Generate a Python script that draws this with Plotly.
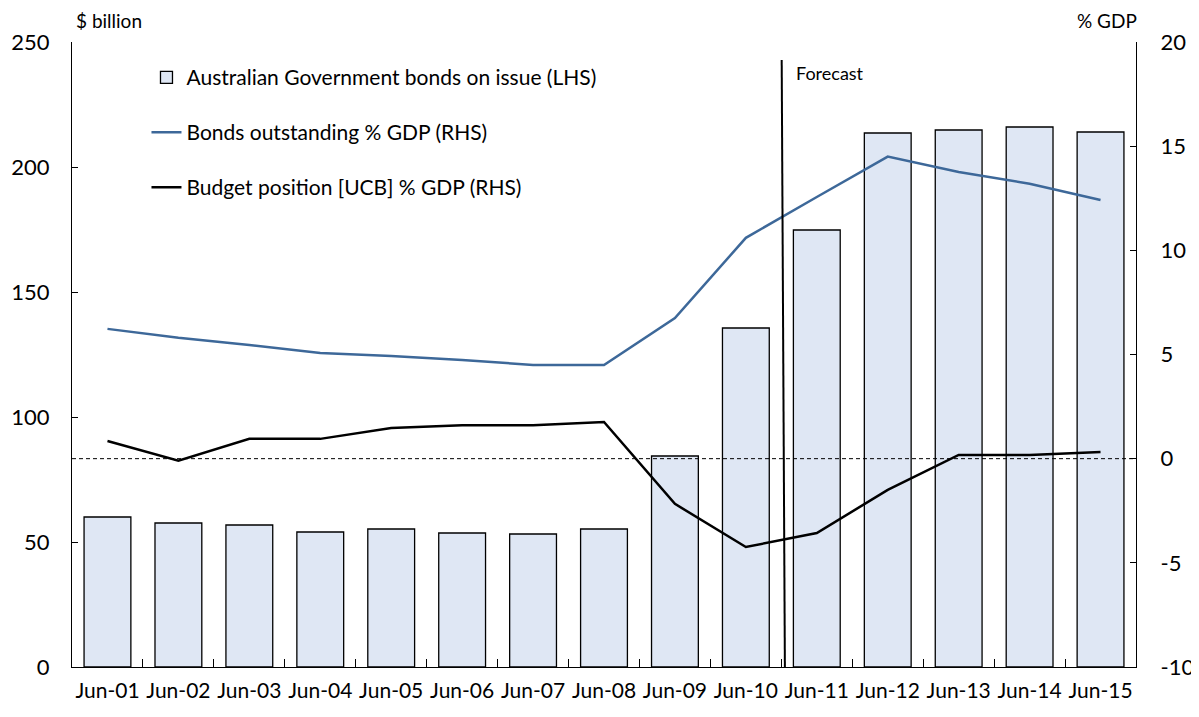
import plotly.graph_objects as go

categories = ["Jun-01", "Jun-02", "Jun-03", "Jun-04", "Jun-05", "Jun-06", "Jun-07", "Jun-08",
              "Jun-09", "Jun-10", "Jun-11", "Jun-12", "Jun-13", "Jun-14", "Jun-15"]
bonds_on_issue = [60.0, 57.6, 56.8, 54.0, 55.2, 53.6, 53.2, 55.2, 84.4, 135.6, 174.8, 213.6, 214.8, 216.0, 214.0]
bonds_pct_gdp = [6.23, 5.8, 5.46, 5.07, 4.93, 4.74, 4.5, 4.5, 6.75, 10.6, 12.56, 14.5, 13.76, 13.2, 12.42]
budget_pct_gdp = [0.85, -0.1, 0.95, 0.95, 1.47, 1.6, 1.6, 1.76, -2.17, -4.24, -3.57, -1.5, 0.18, 0.18, 0.32]
rhs_tick_values = [-10, -5, 0, 5, 10, 15, 20]
rhs_tick_labels = ["-10", "-5", "0", "5", "10", "15", "20"]

FONT = "Lato, Calibri, Carlito, sans-serif"

fig = go.Figure()
fig.add_trace(go.Bar(
    x=categories, y=bonds_on_issue, name="Australian Government bonds on issue (LHS)",
    marker=dict(color="#dfe7f4", line=dict(color="black", width=1.3)),
    yaxis="y", legend="legend", showlegend=True,
))
fig.add_trace(go.Scatter(
    x=categories, y=bonds_pct_gdp, name="Bonds outstanding % GDP (RHS)",
    mode="lines", line=dict(color="#3d6899", width=2.5), yaxis="y2", legend="legend2",
    showlegend=True,
))
fig.add_trace(go.Scatter(
    x=categories, y=budget_pct_gdp, name="Budget position [UCB] % GDP (RHS)",
    mode="lines", line=dict(color="black", width=2.5), yaxis="y2", legend="legend3",
    showlegend=True,
))

legend_common = dict(bgcolor="rgba(0,0,0,0)", font=dict(family=FONT, size=21, color="black"),
                     xanchor="left", yanchor="middle", x=0.07, visible=True)

# the page body has an 8px margin; figure size/margins compensate for it
fig.update_layout(
    template="none",
    width=1191, height=709,
    margin=dict(l=64, r=63, t=34, b=50, autoexpand=False),
    plot_bgcolor="white", paper_bgcolor="white",
    font=dict(family=FONT, size=21, color="black"),
    showlegend=True,
    bargap=0.34,
    xaxis=dict(
        type="category", showline=True, linecolor="black", linewidth=1.3,
        ticks="inside", ticklen=8, tickcolor="black", tickson="boundaries",
        tickfont=dict(size=21), tickangle=0, ticklabelstandoff=5, showgrid=False,
        zeroline=False, range=[-0.5, 14.5], automargin=False,
    ),
    yaxis=dict(
        range=[0, 250], dtick=50, showline=True, linecolor="black", linewidth=1.3,
        ticks="inside", ticklen=6, tickcolor="black", showgrid=False, zeroline=False,
        tickfont=dict(size=22), ticklabelstandoff=17, automargin=False,
    ),
    yaxis2=dict(
        range=[-10, 20], tickmode="array", tickvals=rhs_tick_values, ticktext=rhs_tick_labels,
        overlaying="y", side="right", showline=True,
        linecolor="black", linewidth=1.3, ticks="inside", ticklen=6, tickcolor="black",
        showgrid=False, zeroline=False, tickfont=dict(size=22), ticklabelstandoff=19,
        automargin=False,
    ),
    legend=dict(**legend_common, y=0.943),
    legend2=dict(**legend_common, y=0.855),
    legend3=dict(**legend_common, y=0.767),
    shapes=[
        dict(type="line", xref="paper", yref="y2", x0=0, x1=1, y0=0, y1=0,
             line=dict(color="black", width=1, dash="4px,3px")),
        dict(type="line", xref="x", yref="y", x0=9.55, x1=9.505, y0=0, y1=242.8,
             line=dict(color="black", width=2)),
    ],
    annotations=[
        dict(text="$ billion", xref="paper", yref="paper", x=0.002, y=1.0, yshift=8,
             xanchor="left", yanchor="bottom", showarrow=False, font=dict(size=19)),
        dict(text="% GDP", xref="paper", yref="paper", x=1.003, y=1.0, yshift=8,
             xanchor="right", yanchor="bottom", showarrow=False, font=dict(size=19)),
        dict(text="Forecast", xref="x", yref="y", x=9.68, y=237.5,
             xanchor="left", yanchor="middle", showarrow=False, font=dict(size=18)),
    ],
)

fig.write_html("out.html")
